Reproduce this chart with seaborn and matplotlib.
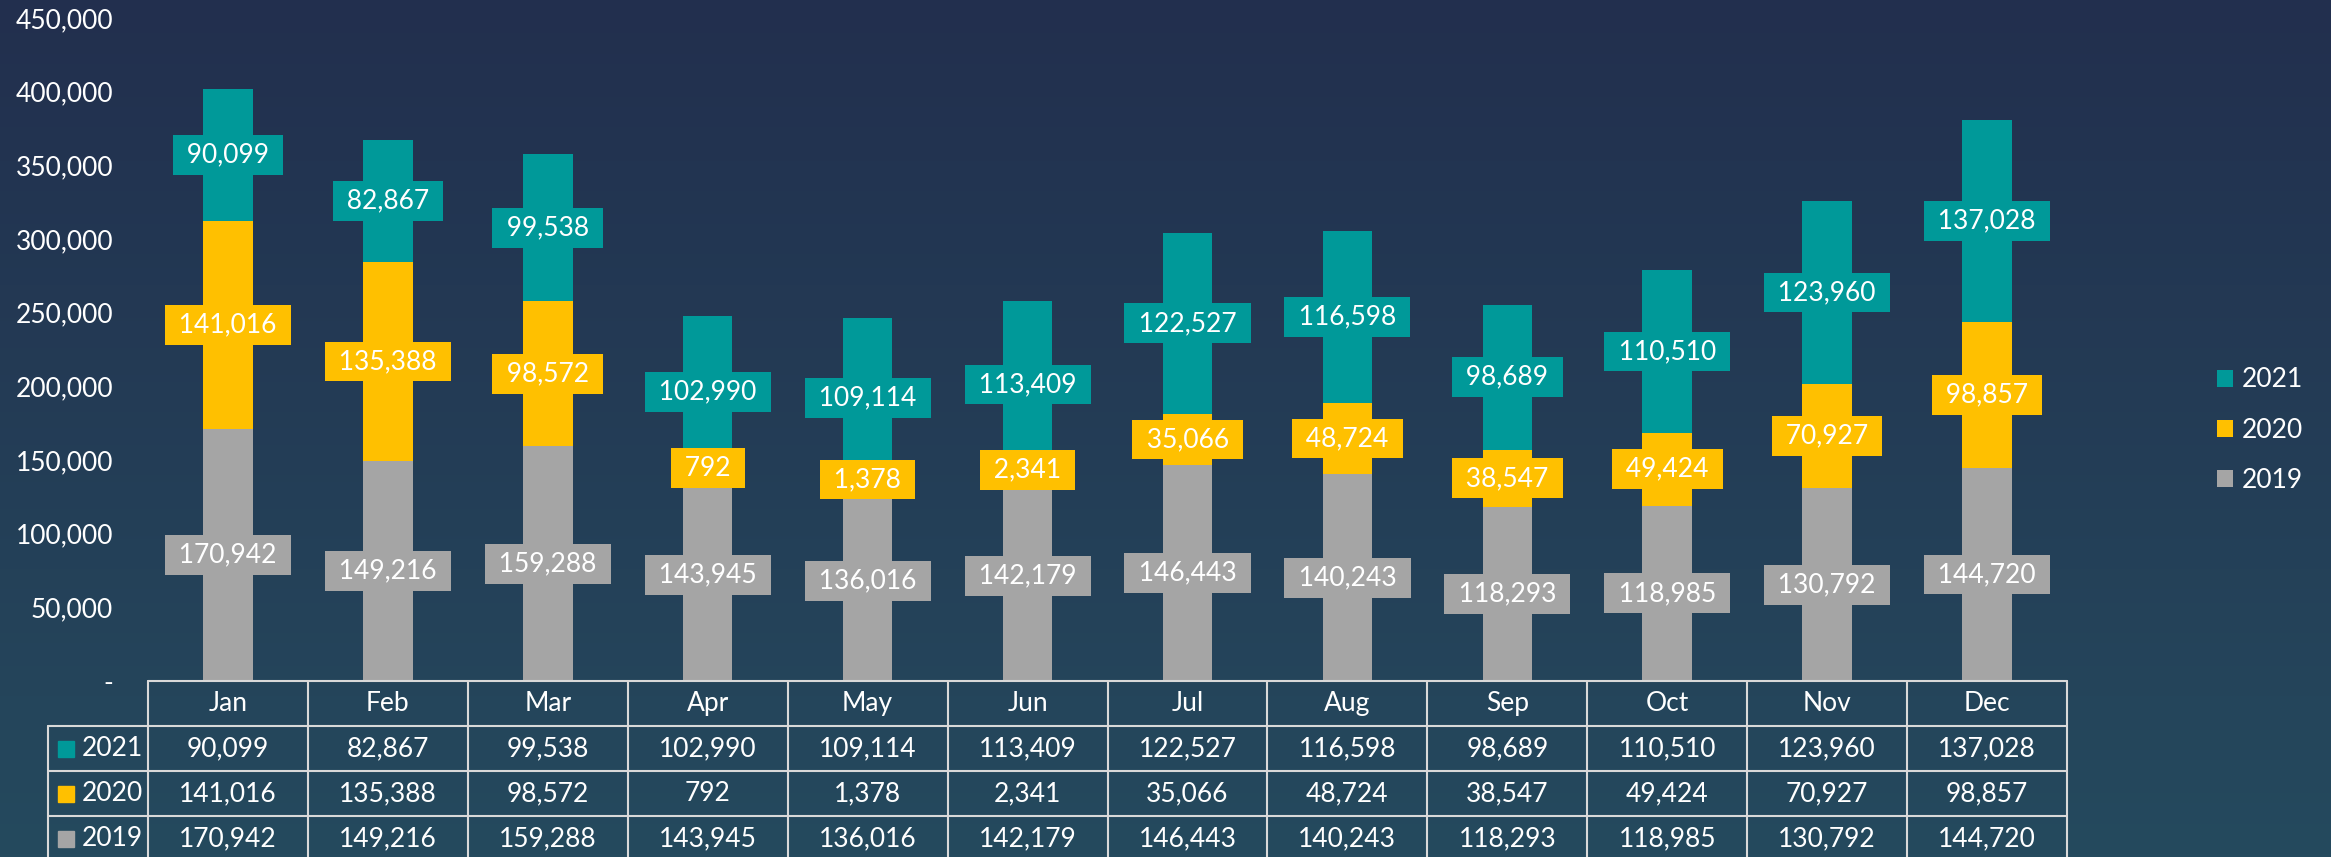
import numpy as np
import pandas as pd
import seaborn as sns
import matplotlib.pyplot as plt
from matplotlib.patches import Patch

# data
months = ['Jan', 'Feb', 'Mar', 'Apr', 'May', 'Jun', 'Jul', 'Aug', 'Sep', 'Oct', 'Nov', 'Dec']
v2019 = [170942, 149216, 159288, 143945, 136016, 142179, 146443, 140243, 118293, 118985, 130792, 144720]
v2020 = [141016, 135388, 98572, 792, 1378, 2341, 35066, 48724, 38547, 49424, 70927, 98857]
v2021 = [90099, 82867, 99538, 102990, 109114, 113409, 122527, 116598, 98689, 110510, 123960, 137028]
years = ['2021', '2020', '2019']
y_ticks = [0, 50000, 100000, 150000, 200000, 250000, 300000, 350000, 400000, 450000]

teal, gold, grey = '#009999', '#FFC000', '#A5A5A5'
colors = {'2021': teal, '2020': gold, '2019': grey}

df = pd.DataFrame({'month': months, '2019': v2019, '2020': v2020, '2021': v2021})
df['s19'] = df['2019']
df['s20'] = df['2019'] + df['2020']
df['s21'] = df['s20'] + df['2021']

sns.set_style('white')
plt.rcParams['font.family'] = ['Lato', 'DejaVu Sans']
FS = 19

W, H = 2331, 857
fig = plt.figure(figsize=(W / 100, H / 100), dpi=100)

# gradient background
bg = fig.add_axes([0, 0, 1, 1], zorder=-10)
top = np.array([0x22, 0x2F, 0x4E]) / 255
bot = np.array([0x25, 0x4A, 0x5E]) / 255
t = np.linspace(0, 1, 256)[:, None, None]
grad = top * (1 - t) + bot * t
bg.imshow(np.repeat(grad, 2, axis=1), aspect='auto', extent=[0, 1, 0, 1])
bg.axis('off')

# main axes: x 148..2067 px, 0 at y=681, 450k at y=18
y0, y1 = 681, 18
ax = fig.add_axes([148 / W, 1 - y0 / H, 1919 / W, (y0 - y1) / H])
ax.set_facecolor('none')

bw = 0.31
for col, c, z in [('s21', teal, 2), ('s20', gold, 3), ('s19', grey, 4)]:
    sns.barplot(data=df, x='month', y=col, order=months, color=c, width=bw,
                saturation=1, errorbar=None, ax=ax, zorder=z, edgecolor='none', linewidth=0)

# value labels in boxes
for i, row in df.iterrows():
    segs = [(row['2019'] / 2, row['2019'], grey),
            (row['s19'] + row['2020'] / 2, row['2020'], gold),
            (row['s20'] + row['2021'] / 2, row['2021'], teal)]
    for yc, v, c in segs:
        ax.text(i, yc, f' {v:,} ', ha='center', va='center', color='white', fontsize=FS,
                zorder=6, bbox=dict(boxstyle='square,pad=0.28', fc=c, ec='none'))

ax.set_xlim(-0.5, 11.5)
ax.set_ylim(0, 450000)
ax.set_yticks(y_ticks)
ax.set_yticklabels(['-' if v == 0 else f'{v:,}' for v in y_ticks])
ax.tick_params(axis='y', colors='white', labelsize=FS, length=0, pad=25)
ax.set_xticks([])
ax.set_xlabel('')
ax.set_ylabel('')
sns.despine(ax=ax, left=True, bottom=True)

# data table below the axes
hpx = y0 - y1
def ya(py):
    return (y0 - py) / hpx

tr = ax.get_xaxis_transform()
lc, lw = '#D9D9D9', 1.5
row_edges = [681, 726, 771, 816, 861]
left_lab = -0.5 - 100 / 160
# horizontal lines
ax.plot([-0.5, 11.5], [ya(681)] * 2, transform=tr, color=lc, lw=lw, clip_on=False, zorder=7)
for py in row_edges[1:]:
    ax.plot([left_lab, 11.5], [ya(py)] * 2, transform=tr, color=lc, lw=lw, clip_on=False, zorder=7)
# vertical lines
ax.plot([left_lab] * 2, [ya(726), ya(861)], transform=tr, color=lc, lw=lw, clip_on=False, zorder=7)
for k in range(13):
    ax.plot([-0.5 + k] * 2, [ya(681), ya(861)], transform=tr, color=lc, lw=lw, clip_on=False, zorder=7)

# header
for i, m in enumerate(months):
    ax.text(i, ya(703.5), m, transform=tr, ha='center', va='center', color='white', fontsize=FS)
# rows
row_vals = {'2021': v2021, '2020': v2020, '2019': v2019}
for r, yr in enumerate(years):
    yc = ya((row_edges[r + 1] + row_edges[r + 2]) / 2)
    ax.plot([-0.5 - 82 / 160], [yc], transform=tr, marker='s', ms=11.5, color=colors[yr],
            ls='none', clip_on=False)
    ax.text(-0.5 - 66 / 160, yc, yr, transform=tr, ha='left', va='center', color='white', fontsize=FS)
    for i, v in enumerate(row_vals[yr]):
        ax.text(i, yc, f'{v:,}', transform=tr, ha='center', va='center', color='white', fontsize=FS)

# legend
handles = [Patch(facecolor=colors[y], edgecolor='none') for y in years]
leg = ax.legend(handles, years, loc='center left', bbox_to_anchor=(2217 / W, 1 - 430 / H),
                bbox_transform=fig.transFigure, frameon=False, fontsize=FS, borderpad=0,
                borderaxespad=0, handlelength=0.6, handleheight=0.6, handletextpad=0.35,
                labelspacing=0.95)
for txt in leg.get_texts():
    txt.set_color('white')

fig.savefig('out.png', dpi=100)
